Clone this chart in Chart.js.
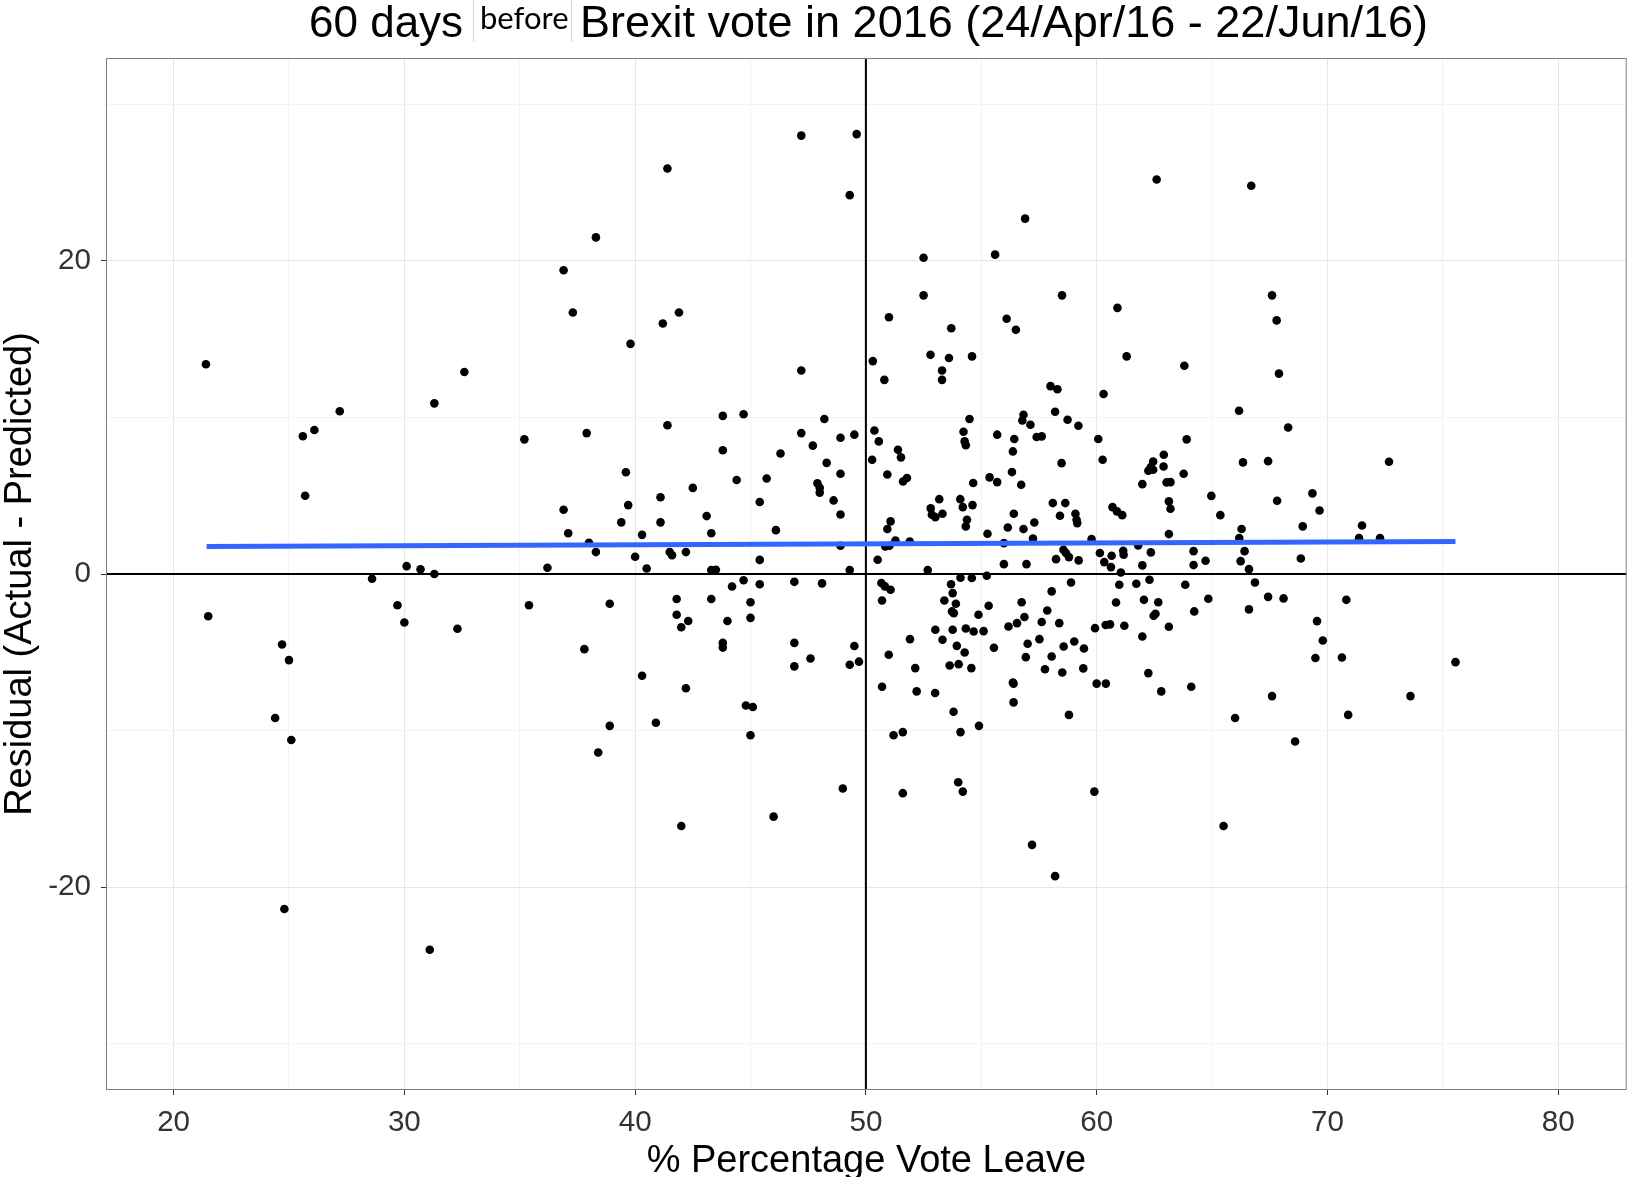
<!DOCTYPE html>
<html lang="en">
<head>
<meta charset="utf-8">
<title>Residuals vs Vote Leave</title>
<script src="https://cdn.jsdelivr.net/npm/chart.js@4.4.1/dist/chart.umd.min.js"></script>
<style>
    html, body { margin: 0; padding: 0; background: #fff; }
    #wrap { position: relative; width: 1631px; height: 1177px; overflow: hidden; }
    #chart { position: absolute; left: 0; top: 0; }
    .title-part {
        position: absolute;
        white-space: nowrap;
        font-family: 'Liberation Sans', Arial, sans-serif;
        font-size: 44px;
        line-height: 44px;
        color: #000;
        top: 0;
    }
    #title-note {
        position: absolute;
        left: 473px;
        top: 0;
        width: 99px;
        height: 42px;
        background: #fff;
        border-left: 1px solid #d4d4d4;
        border-right: 1px solid #d4d4d4;
        box-sizing: border-box;
        font-family: Lato, 'Open Sans', sans-serif;
        font-size: 31px;
        line-height: 30px;
        padding: 2px 0 0 6px;
        color: #000;
        white-space: nowrap;
    }
</style>
</head>
<body>
<div id="wrap">
    <canvas id="chart" width="1631" height="1177"></canvas>
    <span class="title-part" style="left:309px">60 days</span>
    <div id="title-note">before</div>
    <span class="title-part" style="left:580px; font-size:45px">Brexit vote in 2016 (24/Apr/16 - 22/Jun/16)</span>
</div>
<script>
// --- DATA ---
// % vote leave per local authority
const voteLeave = [
    21.4, 21.5, 24.4, 24.7, 25.0, 25.1, 24.8, 25.6, 26.1, 25.7, 27.2, 28.6, 29.7, 30.0, 30.1, 30.7,
    31.3, 31.3, 31.1, 32.6, 32.3, 35.2, 35.4, 36.2, 36.9, 37.3, 38.3, 39.8, 41.2, 41.4, 41.9, 47.2,
    49.6, 49.3, 47.2, 37.9, 41.4, 39.6, 42.5, 36.9, 41.1, 39.7, 39.4, 41.1, 37.1, 38.0, 38.3, 40.3,
    40.0, 41.5, 41.6, 42.2, 40.5, 38.9, 41.8, 41.8, 42.3, 42.0, 37.8, 40.3, 38.9, 38.4, 40.9, 42.2,
    44.8, 45.1, 45.0, 49.0, 46.0, 42.0, 43.8, 44.7, 43.8, 44.4, 45.7, 45.4, 43.1, 43.3, 46.1, 47.2,
    48.2, 46.3, 47.7, 48.9, 49.5, 48.3, 48.9, 47.9, 48.0, 48.0, 48.6, 48.9, 48.9, 45.4, 43.3, 43.5,
    49.3, 44.7, 44.2, 45.4, 46.9, 48.1, 43.3, 45.0, 45.0, 44.0, 43.8, 43.8, 46.9, 47.6, 46.9, 49.3,
    49.5, 49.7, 62.6, 66.7, 56.9, 52.5, 55.6, 52.5, 58.5, 67.6, 51.0, 56.1, 60.9, 67.8, 53.7, 56.5,
    50.3, 52.8, 53.6, 54.6, 61.3, 63.8, 67.9, 50.8, 53.3, 53.3, 58.0, 58.3, 60.3, 50.7, 52.2, 53.0,
    53.8, 51.2, 51.6, 54.1, 54.9, 56.4, 56.4, 58.8, 60.0, 60.4, 62.8, 64.1, 67.6, 73.6, 66.0, 70.9,
    68.6, 51.6, 54.0, 54.2, 59.9, 65.5, 57.2, 58.2, 50.37, 50.56, 50.27, 51.39, 51.52, 50.93, 51.61, 51.78,
    54.49, 54.23, 54.28, 54.33, 55.69, 56.43, 56.37, 56.33, 54.65, 55.36, 55.69, 53.18, 52.81, 52.86, 53.01, 53.32,
    54.09, 54.20, 54.62, 54.38, 54.33, 55.27, 56.15, 56.41, 51.07, 50.93, 50.84, 51.02, 51.28, 51.90, 55.98, 50.51,
    55.98, 52.68, 54.10, 54.59, 55.24, 50.67, 50.82, 51.07, 50.70, 53.69, 53.76, 53.40, 53.90, 53.73, 53.81, 54.88,
    55.32, 56.55, 56.18, 53.01, 53.76, 54.33, 54.67, 55.10, 51.91, 53.32, 53.94, 54.28, 55.55, 50.99, 52.14, 53.63,
    54.02, 54.57, 56.37, 56.83, 56.78, 57.13, 58.20, 58.74, 59.21, 57.40, 57.62, 60.07, 60.26, 58.48, 56.73, 62.91,
    62.45, 62.35, 62.24, 62.45, 62.90, 61.98, 63.03, 63.20, 63.13, 63.20, 58.10, 58.64, 58.41, 59.08, 59.13, 59.16,
    60.69, 60.88, 61.11, 56.83, 57.30, 57.24, 63.13, 59.78, 58.56, 58.67, 58.80, 58.24, 59.22, 56.96, 60.14, 60.33,
    60.65, 60.62, 61.15, 61.17, 61.05, 61.80, 62.35, 61.98, 62.29, 61.72, 60.98, 58.89, 58.05, 56.75, 60.84, 62.05,
    62.67, 62.47, 62.55, 57.86, 56.87, 57.62, 58.38, 59.93, 60.39, 60.58, 61.20, 63.13, 61.98, 57.52, 57.01, 59.03,
    58.57, 59.45, 56.93, 58.05, 57.76, 58.51, 59.42, 62.24, 66.17, 68.30, 63.90, 63.77, 66.34, 67.43, 64.97, 65.36,
    67.82, 69.35, 69.66, 68.93, 66.28, 66.18, 64.20, 64.20, 64.72, 66.41, 66.24, 66.60, 68.85, 63.84, 66.86, 64.84,
    67.43, 68.10, 64.23, 66.60, 69.55, 69.80, 69.48, 72.67, 71.50, 71.37, 72.28, 70.82, 70.63, 75.55
];

// residual (actual - predicted) for the same areas
const residual = [
    13.4, -2.7, -9.2, -4.5, -5.5, -10.6, -21.4, 8.8, 9.2, 5.0, 10.4, -0.3, -2.0, -3.1, 0.5, 0.3,
    0.0, 10.9, -24.0, 12.9, -3.5, 8.6, -2.0, 0.4, 19.4, 16.7, 21.5, 14.7, 16.0, 25.9, 16.7, 28.0,
    28.1, 24.2, 13.0, 9.0, 9.5, 6.5, 5.5, 4.1, 4.9, 4.4, 3.3, 3.3, 2.6, 2.0, 1.4, 2.5,
    1.1, 1.4, 1.2, 1.4, 0.35, -1.9, -1.6, -2.6, -3.0, -3.4, -4.8, -6.5, -9.7, -11.4, -9.5, -7.3,
    -8.4, -8.5, -10.3, -13.7, -15.5, -16.1, 10.1, 10.2, 7.9, 6.0, 6.1, 4.6, 3.7, 2.6, 2.8, 9.0,
    9.9, 7.7, 8.2, 8.7, 8.9, 7.1, 6.4, 5.8, 5.5, 5.2, 4.7, 3.8, 1.8, 0.9, 0.25, 0.27,
    0.25, -0.4, -0.8, -0.65, -0.5, -0.6, -1.6, -1.8, -2.8, -3.0, -4.4, -4.7, -4.4, -5.4, -5.9, -5.8,
    -4.6, -5.6, 25.2, 24.8, 22.7, 20.2, 20.4, 17.8, 17.8, 17.8, 16.4, 16.3, 17.0, 16.2, 15.7, 15.6,
    13.6, 14.0, 13.8, 13.9, 13.9, 13.3, 12.8, 12.4, 13.0, 12.4, 12.0, 11.8, 11.5, -7.2, -7.5, -7.6,
    -8.8, -10.3, -10.1, -10.1, -9.7, -8.2, -7.0, -9.0, -7.0, -7.0, -7.5, -7.2, -7.8, -7.8, -9.2, -9.0,
    -10.7, -14.0, -13.3, -13.9, -13.9, -16.1, -17.3, -19.3, 9.17, 8.47, 7.30, 7.94, 7.45, 6.36, 5.91, 6.13,
    9.90, 9.09, 8.47, 8.23, 8.90, 8.62, 7.83, 6.51, 5.81, 6.17, 5.87, 4.78, 4.19, 3.78, 3.63, 3.85,
    4.78, 4.27, 4.40, 3.46, 3.04, 2.57, 2.97, 3.85, 3.36, 2.87, 1.76, 1.80, 2.14, 2.08, 1.97, 0.91,
    0.63, 0.25, -0.24, -0.26, -0.11, -0.58, -0.79, -1.01, -1.69, -0.65, -1.22, -1.69, -1.90, -2.39, -2.50, -2.60,
    -2.03, -3.14, -3.35, -3.56, -3.56, -3.48, -3.67, -3.65, -4.16, -4.20, -4.59, -5.01, -4.71, -5.16, -6.01, -5.84,
    -5.76, -6.01, -6.93, 10.17, 9.81, 9.53, 10.36, 9.85, 9.47, 8.75, 8.79, 8.62, 7.30, 7.08, 5.70, 7.62,
    7.19, 6.83, 6.60, 6.66, 6.87, 5.74, 5.85, 5.87, 4.64, 4.17, 4.53, 4.53, 3.72, 3.85, 3.46, 3.25,
    4.27, 4.00, 3.76, 2.87, 3.29, 2.27, 2.55, 2.23, 1.55, 1.34, 1.08, 0.95, 0.87, 0.63, 1.34, 0.76,
    1.17, 0.44, 1.48, 1.23, 0.10, 1.82, 1.38, 0.55, -0.37, -0.62, -0.69, -0.54, -1.11, -1.80, -1.82, -1.65,
    -1.80, -2.67, -2.54, -2.33, -2.75, -3.07, -3.14, -3.46, -3.26, -3.22, -3.31, -3.37, -3.99, -4.16, -4.46, -4.31,
    -4.63, -4.76, -5.31, -5.27, -6.08, -6.29, -6.03, -6.33, 10.43, 9.36, 8.60, 6.40, 7.13, 7.21, 4.99, 3.76,
    4.68, 5.15, 4.06, 3.04, 2.87, 2.29, 1.46, 0.57, 0.85, 1.46, 0.82, 0.31, 0.99, -0.69, -0.54, -1.58,
    -1.46, -1.56, -2.39, -2.26, -3.01, -4.25, -5.37, 7.17, 3.10, 2.29, 2.29, -1.65, -5.33, -5.63
];

// fitted line end points
const fitX = [21.43, 75.55];
const fitY = [1.76, 2.08];

// reference lines
const refX = 50;
const refY = 0;

// axis ranges and labelled ticks
const xRange = [17.07, 82.97];
const yRange = [-32.96, 32.96];
const xLabelStep = 10;
const yLabelStep = 20;

// --- BUILD DATASETS ---
const points = voteLeave.map((x, i) => ({ x: x, y: residual[i] }));
const fitLine = fitX.map((x, i) => ({ x: x, y: fitY[i] }));
const vLine = [{ x: refX, y: yRange[0] }, { x: refX, y: yRange[1] }];
const hLine = [{ x: xRange[0], y: refY }, { x: xRange[1], y: refY }];

const isMajor = (v, step) => Math.abs(v % step) < 1e-6;

// panel border drawn on top of everything inside the plot
const panelBorder = {
    id: 'panelBorder',
    afterDatasetsDraw(chart) {
        const { ctx, chartArea: a } = chart;
        ctx.save();
        ctx.strokeStyle = '#7f7f7f';
        ctx.lineWidth = 1;
        ctx.strokeRect(a.left + 0.5, a.top + 0.5, a.right - a.left - 1, a.bottom - a.top - 1);
        ctx.restore();
    }
};

Chart.defaults.font.family = "'Liberation Sans', Arial, sans-serif";

const gridColor = (step) => (c) => (c.tick && isMajor(c.tick.value, step)) ? '#e6e6e6' : '#f3f3f3';
const tickColor = (step) => (c) => (c.tick && isMajor(c.tick.value, step)) ? '#333333' : 'rgba(0,0,0,0)';

new Chart(document.getElementById('chart'), {
    type: 'scatter',
    data: {
        datasets: [
            {
                type: 'line',
                data: fitLine,
                borderColor: '#3366ff',
                borderWidth: 5,
                pointRadius: 0,
                order: 0
            },
            {
                data: points,
                backgroundColor: '#000',
                borderWidth: 0,
                pointRadius: 4.3,
                order: 1
            },
            {
                type: 'line',
                data: vLine,
                borderColor: '#000',
                borderWidth: 2,
                pointRadius: 0,
                order: 2
            },
            {
                type: 'line',
                data: hLine,
                borderColor: '#000',
                borderWidth: 2,
                pointRadius: 0,
                order: 2
            }
        ]
    },
    options: {
        responsive: false,
        devicePixelRatio: 1,
        animation: false,
        layout: { padding: { top: 58, right: 2, left: 0, bottom: 0 } },
        plugins: {
            legend: { display: false },
            tooltip: { enabled: false }
        },
        scales: {
            x: {
                type: 'linear',
                min: xRange[0],
                max: xRange[1],
                afterFit: (s) => { s.height = 87; },
                border: { display: false },
                grid: { color: gridColor(xLabelStep), tickColor: tickColor(xLabelStep), tickLength: 5, lineWidth: 1 },
                ticks: {
                    stepSize: 5,
                    includeBounds: false,
                    autoSkip: false,
                    maxRotation: 0,
                    padding: 10,
                    color: '#333',
                    font: { size: 29.6 },
                    callback: (v) => isMajor(v, xLabelStep) ? v : ''
                },
                title: {
                    display: true,
                    text: '% Percentage Vote Leave',
                    color: '#000',
                    font: { size: 38, lineHeight: 0.8 },
                    padding: 0
                }
            },
            y: {
                type: 'linear',
                min: yRange[0],
                max: yRange[1],
                afterFit: (s) => { s.width = 106; },
                border: { display: false },
                grid: { color: gridColor(yLabelStep), tickColor: tickColor(yLabelStep), tickLength: 5, lineWidth: 1 },
                ticks: {
                    stepSize: 10,
                    includeBounds: false,
                    autoSkip: false,
                    padding: 10,
                    color: '#333',
                    font: { size: 29.6 },
                    callback: (v) => isMajor(v, yLabelStep) ? v : ''
                },
                title: {
                    display: true,
                    text: 'Residual (Actual - Predicted)',
                    color: '#000',
                    font: { size: 38, lineHeight: 1 },
                    padding: { top: 2, bottom: 0 }
                }
            }
        }
    },
    plugins: [panelBorder]
});
</script>
</body>
</html>
